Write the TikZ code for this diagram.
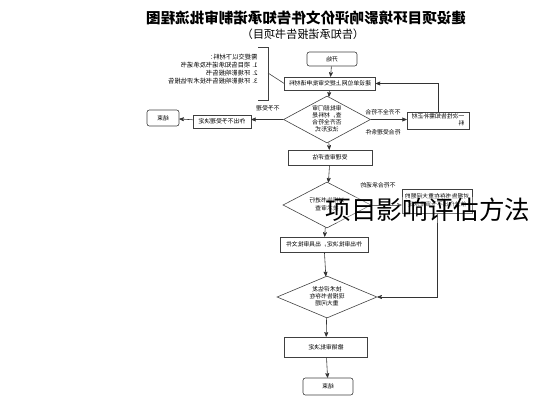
\documentclass[tikz,border=0pt]{standalone}
\usepackage{fontspec}
\usepackage{graphicx}
\setmainfont{Noto Sans CJK SC}
\usetikzlibrary{arrows,shapes.geometric,positioning}

\newcommand{\pxu}{0.03cm}
\newcommand{\boxfont}{\fontsize{5}{6.2}\selectfont}
% mirrored text, one or more lines
\newcommand{\mir}[1]{\reflectbox{#1}}
\newcommand{\mirtext}[2][c]{\reflectbox{\begin{tabular}{@{}#1@{}}#2\end{tabular}}}

\begin{document}
\begin{tikzpicture}[x=0.03cm, y=-0.03cm, >=stealth', line width=0.5pt]
        \tikzstyle{box}=[draw=black!75, fill=white, inner sep=1pt, font=\boxfont]
        \tikzstyle{terminal}=[box, rounded corners=2pt]
        \tikzstyle{decision}=[diamond, draw=black!75, fill=white, inner sep=0pt, aspect=1.85, font=\boxfont]
        \tikzstyle{link}=[->, draw=black!80]
        \tikzstyle{label}=[font=\boxfont, inner sep=1pt]
        \useasboundingbox (0,0) rectangle (533,400);

        % title
        \node[font=\fontsize{12.4}{14}\selectfont\bfseries] (title) at (306,18) {\mir{建设项目环境影响评价文件告知承诺制审批流程图}};
        \node[font=\fontsize{9.5}{11}\selectfont] (subtitle) at (303,34) {\mir{（告知承诺报告书项目）}};

        % main column
        \node[terminal, minimum width=50*\pxu, minimum height=14*\pxu]  (start)     at (332,59)    {\mir{开始}};
        \node[box, minimum width=91*\pxu, minimum height=13*\pxu]       (apply)     at (330,83.5)  {\mir{建设单位网上提交审批申请材料}};
        \node[decision, minimum width=87*\pxu, minimum height=47*\pxu]  (check)     at (327,119.5) {\mirtext{审批部门审\\查，材料是\\否齐全符合\\法定形式}};
        \node[box, minimum width=84*\pxu, minimum height=15*\pxu]       (review)    at (330,157.5) {\mir{受理审查评估}};
        \node[decision, minimum width=88*\pxu, minimum height=46*\pxu]  (assess)    at (327,205)   {\mirtext{对报告书进行\\技术审查}};
        \node[box, minimum width=88*\pxu, minimum height=15*\pxu]       (approve)   at (324,244.5) {\mir{作出审批决定，出具审批文件}};
        \node[decision, minimum width=100*\pxu, minimum height=42*\pxu] (supervise) at (327,297)   {\mirtext{技术评估发\\现报告书存在\\重大问题}};
        \node[box, minimum width=83*\pxu, minimum height=20*\pxu]       (revoke)    at (326,347)   {\mir{撤销审批决定}};
        \node[terminal, minimum width=50*\pxu, minimum height=17*\pxu]  (finish)    at (328,386.5) {\mir{结束}};

        % side boxes
        \node[box, minimum width=62*\pxu, minimum height=15*\pxu]       (notify)    at (438,120.5) {\mirtext[l]{一次性告知需补正材\\料}};
        \node[box, minimum width=58*\pxu, minimum height=13*\pxu]       (reject)    at (222,121.5) {\mir{作出不予受理决定}};
        \node[terminal, minimum width=32*\pxu, minimum height=16*\pxu]  (stop)      at (163,118)   {\mir{结束}};
        \node[box, minimum width=70*\pxu, minimum height=24*\pxu]       (refuse)    at (437,201)   {\mirtext{对报告书存在重大问题的\\依法作出不予审批决定}};

        % materials note
        \node[label, anchor=east, font=\fontsize{5.4}{6.6}\selectfont] (note) at (259,70) {\mirtext[l]{需提交以下材料：\\1. 项目告知承诺书及承诺书\\2. 环境影响报告书\\3. 环境影响报告书技术评估报告}};
        \draw[draw=black!75] (258,47) -- (268,47) -- (268,100) -- (258,100);
        \coordinate (brk) at (268,73);
        \draw[draw=black!75] (brk) -- (apply.west);

        % connectors
        \draw[link] (start) -- (apply);
        \draw[link] (apply) -- (check);
        \draw[link] (check) -- (review);
        \draw[link] (review) -- (assess);
        \draw[link] (assess) -- (approve);
        \draw[link] (approve) -- (supervise);
        \draw[link] (supervise) -- (revoke);
        \draw[link] (revoke) -- (finish);

        \draw[link] (check.east) -- (check.east -| notify.west);
        \draw[link] (notify.north) |- (apply.east);
        \draw[link] (check.west) -- (check.west -| reject.east);
        \draw[link] (reject) -- (stop);
        \draw[link] (assess.east) -- (assess.east -| refuse.west);
        \draw[link] (refuse.south) |- (supervise.east);

        % connector labels
        \node[label] (lbl1) at (383,112) {\mir{不齐全不符合}};
        \node[label] (lbl2) at (383,132) {\mir{符合受理条件}};
        \node[label] (lbl3) at (268,108) {\mir{不予受理}};
        \node[label] (lbl4) at (378,185) {\mir{不符合承诺的}};

        % overlay
        \node[font=\fontsize{21.8}{26}\selectfont, fill=white, fill opacity=0.3, text opacity=1, inner sep=1pt] (mark) at (428,210) {项目影响评估方法};
    \end{tikzpicture}
\end{document}
